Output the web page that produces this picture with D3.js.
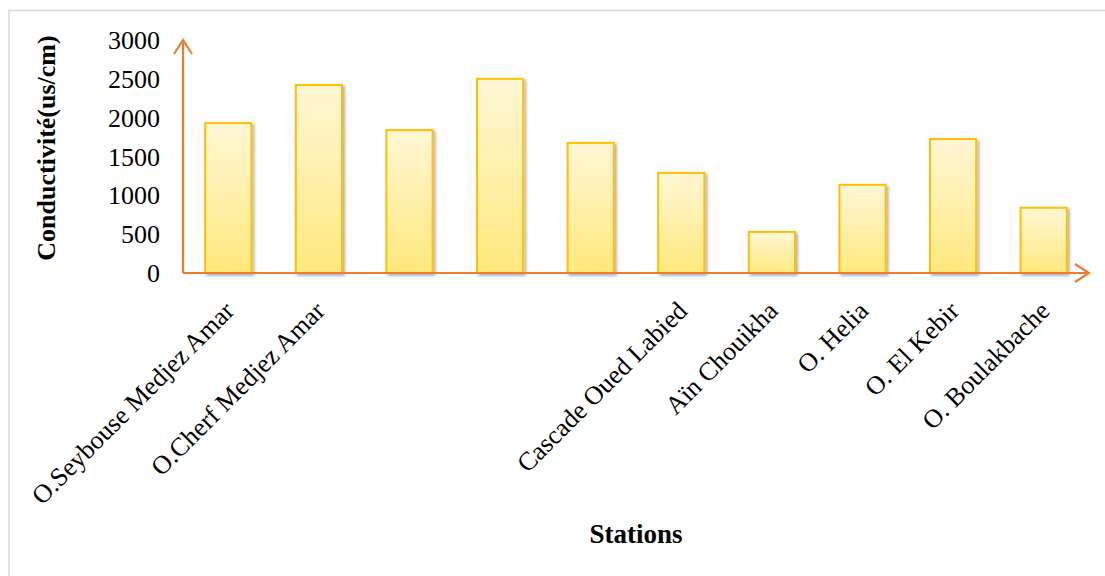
<!DOCTYPE html>
<html>
<head>
<meta charset="utf-8">
<script src="https://cdn.jsdelivr.net/npm/d3@7"></script>
<style>
  body { margin: 0; background: #fff; }
  text { font-family: "Liberation Serif", "Times New Roman", serif; fill: #000; }
</style>
</head>
<body>
<svg width="1105" height="576"></svg>
<script>
// data
const labels = [
  'O.Seybouse Medjez Amar', 'O.Cherf Medjez Amar', '', '', '',
  'Cascade Oued Labied', 'Aïn Chouikha', 'O. Helia', 'O. El Kebir',
  'O. Boulakbache'
];
const conductivity = [1930, 2420, 1840, 2500, 1675, 1290, 530, 1135, 1725, 840];
const yTicks = [0, 500, 1000, 1500, 2000, 2500, 3000];

const svg = d3.select('svg');
const axisColor = '#ed7d31';

// chart border (only top and left visible)
svg.append('path')
    .attr('d', 'M9,576 V10.5 H1105')
    .attr('fill', 'none')
    .attr('stroke', '#d9d9d9')
    .attr('stroke-width', 1.5);

// defs: gradient + shadow
const defs = svg.append('defs');
const grad = defs.append('linearGradient')
    .attr('id', 'bar-fill')
    .attr('x1', 0).attr('y1', 0).attr('x2', 0).attr('y2', 1);
grad.append('stop').attr('offset', '0%').attr('stop-color', '#fff7d6');
grad.append('stop').attr('offset', '100%').attr('stop-color', '#ffe97d');

const shadow = defs.append('filter')
    .attr('id', 'bar-shadow')
    .attr('x', '-20%').attr('y', '-20%')
    .attr('width', '150%').attr('height', '150%');
shadow.append('feDropShadow')
    .attr('dx', 2).attr('dy', 2)
    .attr('stdDeviation', 1.8)
    .attr('flood-color', '#000')
    .attr('flood-opacity', 0.3);

// scales
const x = d3.scaleBand()
    .domain(d3.range(conductivity.length))
    .range([183, 1089])
    .paddingInner(0.49)
    .paddingOuter(0.245);

const y = d3.scaleLinear()
    .domain([0, 3000])
    .range([273, 40]);

// bars
svg.append('g').selectAll('rect')
    .data(conductivity)
    .join('rect')
    .attr('x', (d, i) => x(i))
    .attr('y', (d) => y(d))
    .attr('width', x.bandwidth())
    .attr('height', (d) => y(0) - y(d))
    .attr('fill', 'url(#bar-fill)')
    .attr('stroke', '#ffc000')
    .attr('stroke-width', 2)
    .attr('filter', 'url(#bar-shadow)');

// y tick labels
svg.append('g').selectAll('text')
    .data(yTicks)
    .join('text')
    .attr('x', 160)
    .attr('y', (d) => y(d))
    .attr('dy', '0.35em')
    .attr('text-anchor', 'end')
    .style('font-size', '26px')
    .text((d) => d);

// axes with arrows
const [x0, x1] = x.range();
svg.append('path')
    .attr('d', `M${x0},${y(0)} H${x1} M${x0},${y(0)} V${y(3000) + 1}`)
    .attr('fill', 'none')
    .attr('stroke', axisColor)
    .attr('stroke-width', 2.2);

svg.append('path')
    .attr('d', `M${x1 - 14},${y(0) - 9} L${x1},${y(0)} L${x1 - 14},${y(0) + 9}`)
    .attr('fill', 'none')
    .attr('stroke', axisColor)
    .attr('stroke-width', 2.2);

svg.append('path')
    .attr('d', `M${x0 - 9},${y(3000) + 14} L${x0},${y(3000)} L${x0 + 9},${y(3000) + 14}`)
    .attr('fill', 'none')
    .attr('stroke', axisColor)
    .attr('stroke-width', 2.2);

// x labels
svg.append('g').selectAll('text')
    .data(labels)
    .join('text')
    .attr('transform', (d, i) => `translate(${x(i) + x.bandwidth() / 2 + 1},${y(0) + 33}) rotate(-45)`)
    .attr('text-anchor', 'end')
    .attr('dy', '0.35em')
    .style('font-size', '26px')
    .text((d) => d);

// axis titles
svg.append('text')
    .attr('transform', 'translate(55,148) rotate(-90)')
    .attr('text-anchor', 'middle')
    .style('font-size', '26px')
    .style('font-weight', 'bold')
    .text('Conductivité(us/cm)');

svg.append('text')
    .attr('x', 636)
    .attr('y', 543)
    .attr('text-anchor', 'middle')
    .style('font-size', '27px')
    .style('font-weight', 'bold')
    .text('Stations');
</script>
</body>
</html>
